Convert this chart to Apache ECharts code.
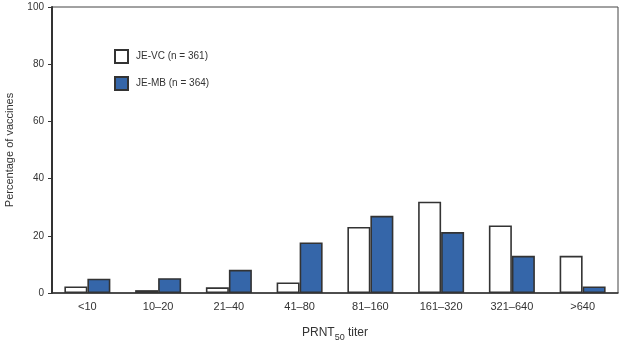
<!DOCTYPE html>
<html><head><meta charset="utf-8">
<script src="https://cdn.jsdelivr.net/npm/echarts@6/dist/echarts.min.js"></script>
<style>html,body{margin:0;padding:0;background:#fff}#c{width:626px;height:342px}</style>
</head><body><div id="c"></div>
<script>
const categories = ['<10','10–20','21–40','41–80','81–160','161–320','321–640','>640'];
const jeVC = [2.3, 1.0, 2.0, 3.7, 23.1, 31.9, 23.6, 13.0];
const jeMB = [5.0, 5.2, 8.1, 17.7, 27.0, 21.3, 13.0, 2.3];
const yTicks = [0, 20, 40, 60, 80, 100];
const seriesNames = ['JE-VC (n = 361)', 'JE-MB (n = 364)'];

const font = 'Liberation Sans, Arial, sans-serif';
const chart = echarts.init(document.getElementById('c'), null, {renderer: 'canvas'});
chart.setOption({
  animation: false,
  grid: {left: 52, right: 8, top: 7, bottom: 49, show: true, borderColor: '#444', borderWidth: 1,
    containLabel: false, outerBoundsMode: 'none'},
  legend: {
    orient: 'vertical', left: 109, top: 44, itemWidth: 13, itemHeight: 13, itemGap: 12,
    textStyle: {fontFamily: font, fontSize: 10, color: '#333', padding: [0, 0, 0, 3]},
    data: seriesNames.map(n => ({name: n, icon: 'rect'}))
  },
  xAxis: {
    type: 'category', data: categories,
    axisLine: {lineStyle: {color: '#333', width: 1.5}},
    axisTick: {alignWithLabel: true, length: 4, lineStyle: {color: '#333'}},
    axisLabel: {fontFamily: font, fontSize: 11, color: '#333', margin: 8},
    name: '{a|PRNT}{s|50}{a| titer}', nameLocation: 'middle', nameGap: 31,
    nameTextStyle: {rich: {a: {fontFamily: font, fontSize: 12, color: '#333'}, s: {fontFamily: font, fontSize: 9, color: '#333', padding: [9, 0, 0, 0]}}}
  },
  yAxis: {
    type: 'value', min: 0, max: 100, interval: 20,
    axisLine: {show: true, lineStyle: {color: '#333', width: 2}},
    axisTick: {show: true, length: 4, lineStyle: {color: '#333'}},
    splitLine: {show: false},
    axisLabel: {fontFamily: font, fontSize: 10, color: '#333', margin: 8,
      formatter: v => yTicks.includes(v) ? String(v) : ''},
    name: 'Percentage of vaccines', nameLocation: 'middle', nameGap: 37,
    nameTextStyle: {fontFamily: font, fontSize: 11, color: '#333'}
  },
  series: [
    {name: seriesNames[0], type: 'bar', data: jeVC, barWidth: 23, barGap: '0%',
      itemStyle: {color: '#ffffff', borderColor: '#333', borderWidth: 1.6}},
    {name: seriesNames[1], type: 'bar', data: jeMB, barWidth: 23,
      itemStyle: {color: '#3566a9', borderColor: '#333', borderWidth: 1.6}}
  ]
});
</script></body></html>
